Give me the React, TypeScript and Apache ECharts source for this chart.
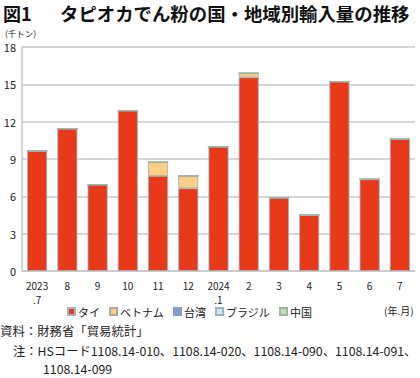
import React, { useEffect, useRef } from "react";
import * as echarts from "echarts";

const categories = ["2023\n.7", "8", "9", "10", "11", "12", "2024\n.1", "2", "3", "4", "5", "6", "7"];
const thai = [9.65, 11.44, 6.94, 12.89, 7.64, 6.65, 9.99, 15.57, 5.89, 4.5, 15.22, 7.37, 10.61];
const vietnam = [0, 0, 0, 0, 1.1, 1.0, 0, 0.32, 0, 0, 0, 0, 0];
const taiwan = [0, 0, 0, 0, 0, 0, 0, 0, 0, 0, 0, 0, 0];
const brazil = [0, 0, 0, 0, 0, 0, 0, 0, 0, 0, 0, 0, 0];
const china = [0, 0, 0, 0, 0, 0, 0, 0, 0, 0, 0, 0, 0];
const yTicks = [0, 3, 6, 9, 12, 15, 18];

const FONT = "'Noto Sans CJK JP', 'Noto Sans', sans-serif";

export default function App() {
  const ref = useRef<HTMLDivElement>(null);
  useEffect(() => {
    if (!ref.current) return;
    const chart = echarts.init(ref.current, null, { renderer: "svg" });
    const mk = (name: string, data: number[], color: string, border: string) => ({
      name,
      type: "bar",
      stack: "total",
      data,
      barWidth: 20,
      itemStyle: { color, borderColor: border, borderWidth: 0.8 },
    });
    chart.setOption({
      animation: false,
      textStyle: { fontFamily: FONT },
      grid: { left: 22, right: 5, top: 47, bottom: 107, containLabel: false },
      xAxis: {
        type: "category",
        data: categories,
        axisLine: { lineStyle: { color: "#c8c8c8", width: 1.5 } },
        axisTick: { show: false },
        axisLabel: { color: "#222", fontSize: 10, lineHeight: 14, margin: 7, interval: 0, fontFamily: FONT },
      },
      yAxis: {
        type: "value",
        min: yTicks[0],
        max: yTicks[yTicks.length - 1],
        interval: 3,
        axisLine: { show: true, lineStyle: { color: "#c8c8c8", width: 1.5 } },
        axisTick: { show: false },
        splitLine: { lineStyle: { color: "#c8c8c8", width: 1.5 } },
        axisLabel: { color: "#222", fontSize: 11, margin: 6, fontFamily: FONT },
      },
      legend: {
        left: 67,
        top: 306,
        padding: 0,
        itemWidth: 7,
        itemHeight: 7,
        itemGap: 9,
        icon: "rect",
        textStyle: { fontSize: 11, color: "#222", padding: [0, 0, 0, -2], fontFamily: FONT },
        data: ["タイ", "ベトナム", "台湾", "ブラジル", "中国"],
      },
      series: [
        mk("タイ", thai, "#e8391a", "#9fb4be"),
        mk("ベトナム", vietnam, "#fbd084", "#a9a9a0"),
        mk("台湾", taiwan, "#8a9ccc", "#8a9ccc"),
        mk("ブラジル", brazil, "#cfe9f2", "#9fb4be"),
        mk("中国", china, "#c6dfc0", "#a0b8a0"),
      ],
      graphic: [
        { type: "text", left: 3, top: 4, style: { text: "図1", fontSize: 18, fill: "#111", fontFamily: FONT, fontWeight: "bold" } },
        { type: "text", left: 60, top: 4, style: { text: "タピオカでん粉の国・地域別輸入量の推移", fontSize: 18.4, fill: "#111", fontFamily: FONT, fontWeight: "bold" } },
        { type: "text", left: 5, top: 29, style: { text: "(千トン)", fontSize: 8.5, fill: "#222", fontFamily: FONT } },
        { type: "text", left: 384, top: 305, style: { text: "(年.月)", fontSize: 10, fill: "#222", fontFamily: FONT } },
        { type: "text", left: 0, top: 325, style: { text: "資料：財務省「貿易統計」", fontSize: 12.4, fill: "#222", fontFamily: FONT } },
        { type: "text", left: 13, top: 345, style: { text: "注：HSコード1108.14-010、1108.14-020、1108.14-090、1108.14-091、", fontSize: 12.3, fill: "#222", fontFamily: FONT } },
        { type: "text", left: 43, top: 363, style: { text: "1108.14-099", fontSize: 12.3, fill: "#222", fontFamily: FONT } },
      ],
    });
    return () => chart.dispose();
  }, []);
  return <div ref={ref} style={{ width: 420, height: 378, position: "absolute", left: 0, top: 0 }} />;
}
